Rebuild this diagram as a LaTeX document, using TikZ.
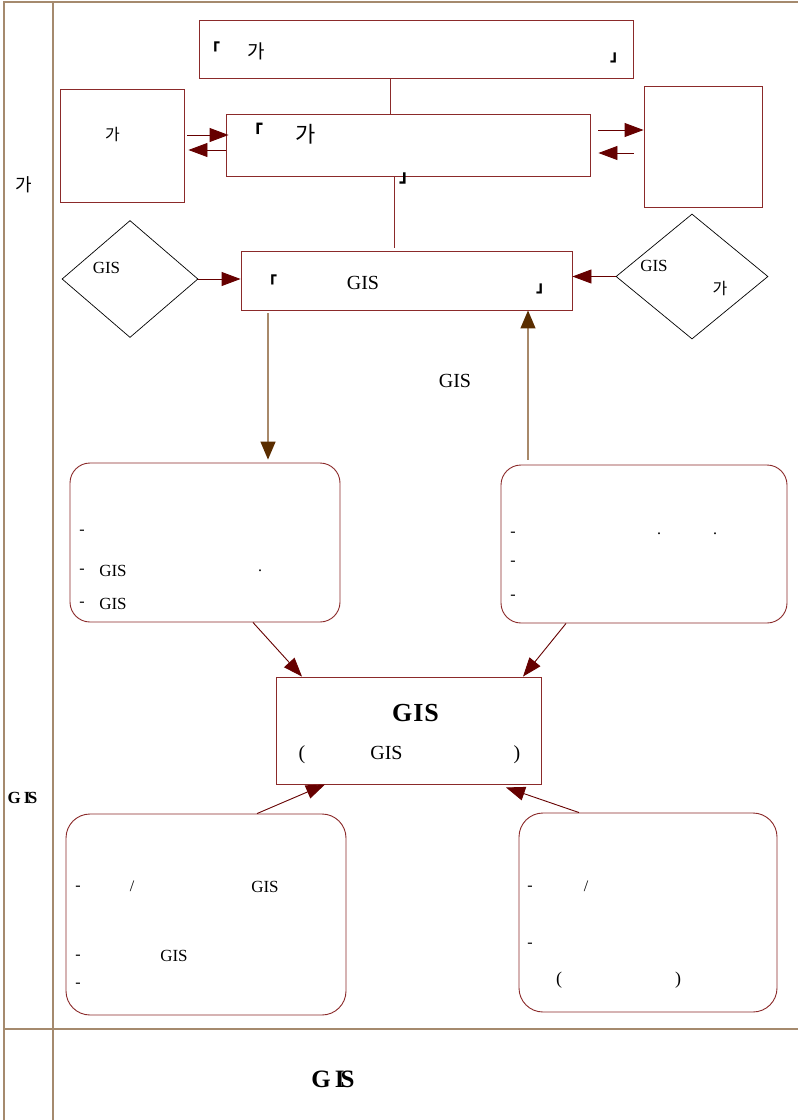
\documentclass[tikz,border=0pt]{standalone}
\usepackage{fontspec}
\setmainfont{Liberation Serif}
\newfontfamily\kr{Noto Sans CJK KR}
\usetikzlibrary{arrows.meta,shapes.geometric}
\definecolor{boxc}{HTML}{8B2A2A}
\definecolor{arrc}{HTML}{660000}
\definecolor{framec}{HTML}{A58A6E}
\definecolor{tanc}{HTML}{A8896A}
\definecolor{brownc}{HTML}{5A2D00}
\newcommand{\fs}[1]{\fontsize{#1}{#1}\selectfont}
\begin{document}
\begin{tikzpicture}[x=1pt,y=-1pt,
 rect/.style={draw=boxc,line width=0.9pt,inner sep=0pt},
 rrect/.style={rect,rounded corners=20pt},
 dia/.style={diamond,draw=black,line width=0.7pt,inner sep=0pt},
 frame/.style={draw=framec,line width=1.2pt},
 link/.style={draw=boxc,line width=0.9pt},
 arr/.style={draw=arrc,line width=0.9pt,-{Triangle[length=19pt,width=14pt]}},
 varr/.style={draw=tanc,line width=1.4pt,-{Triangle[length=18pt,width=15pt,color=brownc]}},
 lab/.style={inner sep=0pt,font=\fs{#1}},
 kor/.style={inner sep=0pt,font=\kr\fs{#1}},
 brk/.style={inner sep=0pt,font=\kr\bfseries\fs{#1}},
 bold/.style={inner sep=0pt,font=\bfseries\fs{#1}}
]
\useasboundingbox (0,0) rectangle (798,1120);
\fill[white] (0,0) rectangle (798,1120);
% frame
\draw[frame] (4,1120) -- (4,2) -- (798,2);
\draw[frame] (53,2) -- (53,1120);
\draw[frame] (4,1029) -- (798,1029);
% boxes
\node[rect,minimum width=434pt,minimum height=58pt] (top) at (416,49) {};
\node[rect,minimum width=364pt,minimum height=62pt] (b2) at (408,145) {};
\node[rect,minimum width=124pt,minimum height=113pt] (lbox) at (122,145.5) {};
\node[rect,minimum width=118pt,minimum height=121pt] (rbox) at (703,146.5) {};
\node[rect,minimum width=331pt,minimum height=59pt] (b3) at (406.5,280.5) {};
\node[dia,minimum width=136pt,minimum height=117pt] (ld) at (130,279) {};
\node[dia,minimum width=152pt,minimum height=125pt] (rd) at (692,276.5) {};
\node[rrect,minimum width=270pt,minimum height=159pt] (lrb) at (205,542.5) {};
\node[rrect,minimum width=286pt,minimum height=158pt] (rrb) at (644,544) {};
\node[rect,minimum width=265pt,minimum height=107pt] (cen) at (408.5,730.5) {};
\node[rect,rounded corners=24pt,minimum width=280pt,minimum height=201pt] (blb) at (206,914.5) {};
\node[rect,rounded corners=24pt,minimum width=258pt,minimum height=199pt] (brb) at (648,912.5) {};
% connectors
\draw[link] ([xshift=-26pt]top.south) -- ([xshift=-18pt]b2.north);
\draw[link] ([xshift=-14pt]b2.south) -- ([xshift=-12.5pt,yshift=3pt]b3.north);
\draw[arr] ([xshift=3pt,yshift=10.5pt]lbox.east) -- ([xshift=3pt,yshift=10pt]b2.west);
\draw[arr] ([yshift=-5pt]b2.west) -- ([xshift=4pt,yshift=-4.5pt]lbox.east);
\draw[arr] ([xshift=8pt,yshift=15pt]b2.east) -- ([yshift=16.5pt]rbox.west);
\draw[arr] ([xshift=-10pt,yshift=-6.5pt]rbox.west) -- ([xshift=8pt,yshift=-8pt]b2.east);
\draw[arr] (ld.east) -- (ld.east -| b3.west);
\draw[arr] (rd.west) -- (rd.west -| b3.east);
\draw[varr] ([xshift=-138.5pt,yshift=-3pt]b3.south) -- ([xshift=63pt,yshift=3pt]lrb.north);
\draw[varr] ([xshift=-116pt,yshift=5pt]rrb.north) -- ([xshift=121.5pt]b3.south);
\draw[arr] ([xshift=48pt]lrb.south) -- ([xshift=-106.5pt]cen.north);
\draw[arr] ([xshift=-78pt]rrb.south) -- ([xshift=114.5pt]cen.north);
\draw[arr] ([xshift=51pt]blb.north) -- ([xshift=-83.5pt]cen.south);
\draw[arr] ([xshift=-69pt]brb.north) -- ([xshift=97.5pt,yshift=-3pt]cen.south);
% left column labels
\node[kor=18] (tc1) at (23.5,185) {가};
\node[bold=17] (tc2) at (22.5,797.5) {G\kern3pt I\kern-2.5pt S};
\node[bold=25] (tc3) at (333,1079) {G\kern4pt I\kern-4pt S};
% top box
\node[brk=16] (t1a) at (212,49) {「};
\node[kor=19] (t1b) at (256,51) {가};
\node[brk=16] (t1c) at (618,58) {」};
% second box
\node[brk=18] (t2a) at (254,131) {「};
\node[kor=22] (t2b) at (306,134) {가};
\node[brk=18] (t2c) at (408,178) {」};
% left box / right diamond / left diamond
\node[kor=16] (t3) at (112.5,134) {가};
\node[lab=17] (t4) at (106.5,268) {GIS};
\node[lab=17] (t5a) at (654,265.5) {GIS};
\node[kor=16] (t5b) at (720,288) {가};
% third box
\node[brk=16] (t6a) at (269,282) {「};
\node[lab=20] (t6b) at (363,283) {GIS};
\node[brk=16] (t6c) at (544,289) {」};
\node[lab=20] (t7) at (455,380.5) {GIS};
% left rounded box
\node[lab=16] (t8a) at (82,532) {-};
\node[lab=16] (t8b) at (82,571) {-};
\node[lab=17] (t8c) at (113,571) {GIS};
\node[lab=16] (t8d) at (260,571) {.};
\node[lab=16] (t8e) at (82,604) {-};
\node[lab=17] (t8f) at (113,604) {GIS};
% right rounded box
\node[lab=16] (t9a) at (513,534) {-};
\node[lab=16] (t9b) at (659,534) {.};
\node[lab=16] (t9c) at (715,534) {.};
\node[lab=16] (t9d) at (513,563) {-};
\node[lab=16] (t9e) at (513,597) {-};
% center box
\node[bold=26] (t10a) at (415.5,713.5) {G\kern1pt I\kern1pt S};
\node[lab=20] (t10b) at (302,755) {(};
\node[lab=20] (t10c) at (386.5,753) {GIS};
\node[lab=20] (t10d) at (517,755) {)};
% bottom left box
\node[lab=16] (t11a) at (78,888) {-};
\node[lab=16] (t11b) at (132,886) {/};
\node[lab=17] (t11c) at (265,887) {GIS};
\node[lab=16] (t11d) at (78,957) {-};
\node[lab=17] (t11e) at (174,956) {GIS};
\node[lab=16] (t11f) at (78,985) {-};
% bottom right box
\node[lab=16] (t12a) at (530,888) {-};
\node[lab=16] (t12b) at (586,886) {/};
\node[lab=16] (t12c) at (530,945) {-};
\node[lab=18] (t12d) at (559,980) {(};
\node[lab=18] (t12e) at (678,980) {)};
\end{tikzpicture}
\end{document}
